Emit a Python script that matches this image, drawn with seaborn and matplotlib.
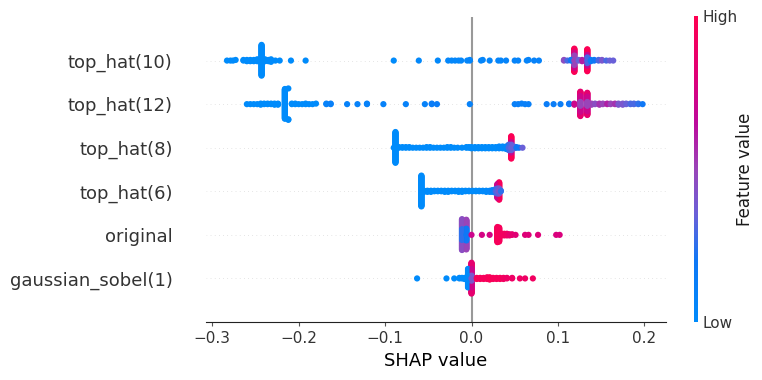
"""
SHAP summary (beeswarm) plot for the image feature set.
"""
import matplotlib
matplotlib.use("Agg")
import matplotlib.pyplot as plt
from matplotlib.cm import ScalarMappable
from matplotlib.colors import LinearSegmentedColormap, Normalize
import numpy as np
import pandas as pd
import seaborn as sns

features = ["top_hat(10)", "top_hat(12)", "top_hat(8)", "top_hat(6)", "original", "gaussian_sobel(1)"]

# shap value, how many samples sit there, feature value (0-1)
top_hat_10_shap = [-0.283, -0.279, -0.276, -0.273, -0.264, -0.260, -0.256, -0.252, -0.248, -0.243, -0.239, -0.235, -0.232,
                   -0.227, -0.222, -0.209, -0.192, -0.090, -0.061, -0.039, -0.027, -0.023, -0.019, -0.015, -0.012, -0.005,
                   -0.002, 0.011, 0.013, 0.021, 0.031, 0.034, 0.040, 0.050, 0.054, 0.064, 0.066, 0.0725, 0.078,
                   0.107, 0.111, 0.115, 0.119, 0.119, 0.119, 0.124, 0.128, 0.134, 0.134, 0.134,
                   0.138, 0.142, 0.147, 0.151, 0.156, 0.160, 0.164]
top_hat_10_count = [1, 1, 1, 1, 2, 3, 3, 3, 4, 50, 4, 3, 2,
                    1, 1, 1, 1, 1, 1, 1, 1, 1, 1, 1, 1, 1,
                    2, 1, 1, 1, 1, 1, 1, 1, 1, 1, 1, 1, 1,
                    2, 1, 2, 16, 10, 12, 2, 3, 10, 8, 18,
                    3, 2, 2, 2, 1, 1, 1]
top_hat_10_feat = [0, 0, 0, 0, 0, 0, 0, 0, 0, 0, 0, 0, 0,
                   0, 0, 0, 0, 0, 0.03, 0.03, 0.05, 0.05, 0.05, 0.05, 0.05, 0.05,
                   0.06, 0.06, 0.06, 0.06, 0.06, 0.06, 0.08, 0.08, 0.08, 0.08, 0.08, 0.1, 0.1,
                   0.45, 0.3, 0.2, 0.5, 0.75, 0.97, 0.35, 0.6, 0.3, 0.7, 0.98,
                   0.15, 0.2, 0.3, 0.4, 0.3, 0.35, 0.35]

top_hat_12_shap = [-0.260, -0.256, -0.252, -0.248, -0.244, -0.240, -0.236, -0.232, -0.228, -0.224, -0.216, -0.212, -0.208,
                   -0.204, -0.200, -0.196, -0.192, -0.188, -0.184, -0.180, -0.168, -0.163, -0.144, -0.132, -0.121, -0.102,
                   -0.076, -0.054, -0.046, -0.040, -0.002, 0.050, 0.054, 0.058, 0.062, 0.066, 0.087, 0.095, 0.103, 0.113,
                   0.119, 0.126, 0.126, 0.126, 0.134, 0.134, 0.134, 0.139, 0.143, 0.148, 0.152, 0.157, 0.161, 0.166,
                   0.170, 0.175, 0.179, 0.184, 0.188, 0.193, 0.198]
top_hat_12_count = [1, 1, 1, 1, 2, 2, 2, 2, 3, 3, 56, 3, 2,
                    2, 1, 1, 2, 1, 1, 1, 2, 2, 1, 1, 2, 1,
                    1, 1, 2, 1, 1, 1, 1, 1, 1, 1, 1, 1, 1, 2,
                    3, 8, 22, 16, 8, 20, 14, 3, 2, 3, 2, 2, 2, 2,
                    3, 3, 2, 2, 2, 2, 1]
top_hat_12_feat = [0, 0, 0, 0, 0, 0, 0, 0, 0, 0, 0, 0, 0,
                   0, 0, 0, 0, 0, 0, 0, 0.1, 0.12, 0.1, 0.1, 0.1, 0.1,
                   0.1, 0.1, 0.15, 0.15, 0.1, 0.12, 0.12, 0.12, 0.12, 0.12, 0.15, 0.15, 0.15, 0.2,
                   0.72, 0.5, 0.72, 0.85, 0.5, 0.72, 0.85, 0.5, 0.45, 0.55, 0.5, 0.6, 0.5, 0.55,
                   0.4, 0.4, 0.35, 0.3, 0.3, 0.25, 0.2]

top_hat_8_shap = [-0.090, -0.088, -0.084, -0.080, -0.076, -0.072, -0.068, -0.064, -0.060, -0.056, -0.052, -0.048, -0.044,
                  -0.040, -0.036, -0.032, -0.028, -0.024, -0.020, -0.016, -0.011, -0.006, -0.003, 0.0, 0.004, 0.008,
                  0.012, 0.016, 0.020, 0.024, 0.028, 0.032, 0.036, 0.040, 0.043, 0.046, 0.046, 0.046, 0.049, 0.052,
                  0.055, 0.059]
top_hat_8_count = [1, 52, 2, 2, 2, 2, 1, 1, 1, 1, 2, 2, 1,
                   1, 1, 1, 2, 2, 1, 1, 1, 2, 2, 3, 3, 3,
                   3, 3, 3, 3, 3, 4, 4, 5, 10, 10, 8, 20, 4, 2,
                   1, 1]
top_hat_8_feat = [0, 0, 0, 0, 0, 0, 0, 0, 0, 0, 0, 0, 0,
                  0, 0, 0, 0, 0, 0, 0, 0, 0, 0, 0, 0, 0,
                  0, 0, 0, 0, 0, 0.02, 0.02, 0.05, 0.3, 0.35, 0.7, 0.98, 0.35, 0.2,
                  0.2, 0.35]

top_hat_6_shap = [-0.058, -0.055, -0.051, -0.047, -0.043, -0.039, -0.035, -0.031, -0.027, -0.023, -0.019, -0.015,
                  -0.011, -0.007, -0.003, 0.001, 0.005, 0.009, 0.013, 0.017, 0.021, 0.024, 0.028, 0.030, 0.030, 0.032, 0.032, 0.034]
top_hat_6_count = [56, 3, 3, 3, 2, 2, 2, 3, 3, 2, 2, 3,
                   3, 2, 2, 2, 2, 2, 2, 3, 3, 4, 8, 10, 16, 10, 22, 2]
top_hat_6_feat = [0, 0, 0, 0, 0, 0, 0, 0, 0, 0, 0, 0,
                  0, 0, 0, 0, 0, 0, 0.02, 0.02, 0.05, 0.1, 0.3, 0.33, 0.72, 0.4, 0.95, 0.25]

original_shap = [-0.011, -0.011, -0.006, -0.006, 0.0, 0.012, 0.021, 0.030, 0.032, 0.035, 0.038, 0.041,
                 0.044, 0.047, 0.051, 0.062, 0.066, 0.077, 0.098, 0.102]
original_count = [20, 36, 22, 32, 1, 1, 1, 28, 26, 4, 4, 4,
                  3, 2, 1, 1, 1, 1, 1, 1]
original_feat = [0.25, 0.45, 0.2, 0.5, 0.72, 0.75, 0.75, 0.95, 0.95, 0.92, 0.92, 0.9,
                 0.85, 0.85, 0.82, 0.8, 0.8, 0.8, 0.78, 0.78]

gaussian_sobel_shap = [-0.063, -0.029, -0.020, -0.014, -0.011, -0.008, -0.004, 0.0, 0.0, 0.0, 0.006, 0.010, 0.014, 0.018,
                       0.021, 0.025, 0.029, 0.033, 0.037, 0.041, 0.047, 0.056, 0.062, 0.071]
gaussian_sobel_count = [1, 1, 1, 2, 2, 3, 34, 10, 24, 22, 3, 3, 3, 4,
                        5, 3, 3, 3, 3, 2, 2, 1, 1, 1]
gaussian_sobel_feat = [0, 0, 0, 0, 0, 0, 0, 0.4, 0.72, 0.85, 0.95, 0.95, 0.95, 0.95,
                       0.97, 0.95, 0.95, 0.95, 0.92, 0.9, 0.9, 0.9, 0.9, 0.92]

xtick_values = [-0.3, -0.2, -0.1, 0.0, 0.1, 0.2]

rows = [
    (top_hat_10_shap, top_hat_10_count, top_hat_10_feat),
    (top_hat_12_shap, top_hat_12_count, top_hat_12_feat),
    (top_hat_8_shap, top_hat_8_count, top_hat_8_feat),
    (top_hat_6_shap, top_hat_6_count, top_hat_6_feat),
    (original_shap, original_count, original_feat),
    (gaussian_sobel_shap, gaussian_sobel_count, gaussian_sobel_feat),
]

red_blue = LinearSegmentedColormap.from_list(
    "red_blue",
    [(0.0, "#008bfb"), (0.2, "#0f78f6"), (0.35, "#6a60d8"), (0.5, "#9a45b8"),
     (0.65, "#bd0a9c"), (0.8, "#de0078"), (1.0, "#ff0051")],
)


def swarm_offsets(values, row_height=0.4, nbins=100):
    """Stack samples falling in one bin outwards from the row centre."""
    values = np.asarray(values)
    quant = np.round(nbins * (values - values.min()) / (values.max() - values.min()))
    offsets = np.zeros(len(values))
    seen = {}
    for i, q in enumerate(quant):
        layer = seen.get(q, 0)
        offsets[i] = np.ceil(layer / 2) * ((layer % 2) * 2 - 1)
        seen[q] = layer + 1
    return offsets * 0.9 * row_height / np.abs(offsets).max()


frames = []
for pos, (shap_vals, counts, feats) in zip(range(len(features) - 1, -1, -1), rows):
    x = np.repeat(shap_vals, counts)
    off = swarm_offsets(x)
    frame = pd.DataFrame({
        "shap": x,
        "feature_value": np.repeat(feats, counts),
        "row": pos + off,
        "spread": np.abs(off),
    })
    # outer samples go down first so the mixed colours near the centre stay visible
    frames.append(frame.sort_values("spread", ascending=False, kind="stable"))
df = pd.concat(frames, ignore_index=True)

sns.set_style("white")
fig = plt.figure(figsize=(7.62, 3.8), dpi=100)
ax = fig.add_axes([206 / 762, 1 - 322 / 380, 460 / 762, 305 / 380])

for pos in range(len(features)):
    ax.axhline(pos, color="#cccccc", lw=0.5, dashes=(1, 5), zorder=-1)
ax.axvline(0, color="#999999", lw=1.5, zorder=0)

sns.scatterplot(data=df, x="shap", y="row", hue="feature_value", palette=red_blue,
                hue_norm=(0, 1), s=20, linewidth=0, legend=False, ax=ax, zorder=3)

ax.set_xlim(-0.3073, 0.2251)
ax.set_ylim(-1, len(features))
sns.despine(ax=ax, left=True)
ax.spines["bottom"].set_color("#222222")
ax.spines["bottom"].set_linewidth(0.8)
ax.set_xticks(xtick_values)
ax.set_yticks(range(len(features)))
ax.set_yticklabels(features[::-1], fontsize=13, color="#333333")
ax.tick_params(axis="y", length=20, width=0.5, color="white", pad=4, left=True)
ax.tick_params(axis="x", labelsize=11, labelcolor="#333333", color="#555555", bottom=True, length=3, width=0.8)
ax.set_xlabel("SHAP value", fontsize=13, labelpad=4, color="black")
ax.set_ylabel("")
ax.grid(False)

cax = fig.add_axes([694 / 762, 1 - 322 / 380, 4 / 762, 306 / 380])
cbar = fig.colorbar(ScalarMappable(norm=Normalize(0, 1), cmap=red_blue), cax=cax)
cbar.set_ticks([0, 1], labels=["Low", "High"])
cbar.ax.tick_params(labelsize=11, length=0, pad=3, labelcolor="#333333")
cbar.outline.set_visible(False)
cbar.set_label("Feature value", size=12, labelpad=-1, color="#1a1a1a")

fig.savefig("out.png", dpi=100)
plt.close(fig)
